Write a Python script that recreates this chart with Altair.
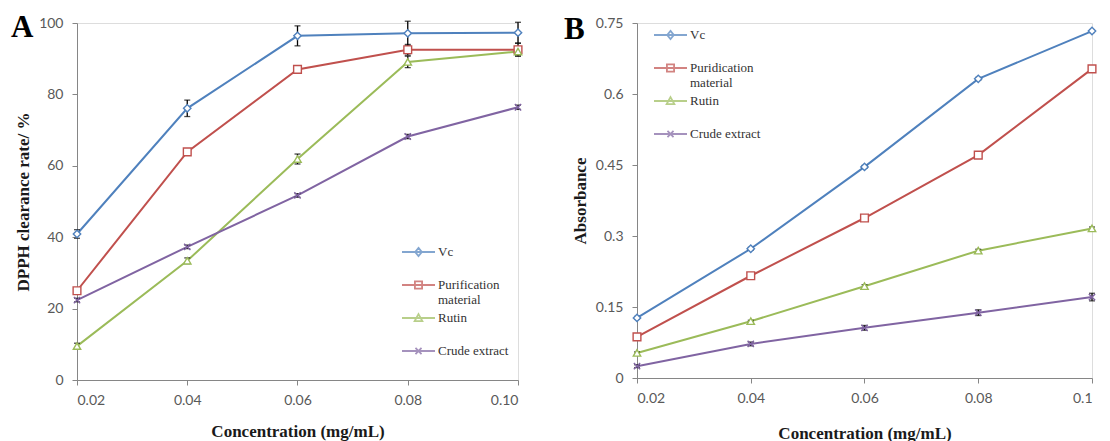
import altair as alt
import pandas as pd

# ---------------- data ----------------
conc = [0.02, 0.04, 0.06, 0.08, 0.10]

a_series = ["Vc", "Purification material", "Rutin", "Crude extract"]
a_vc = [40.9, 76.1, 96.4, 97.1, 97.3]
a_vc_err = [1.2, 2.3, 2.8, 3.4, 2.9]
a_pur = [25.0, 63.9, 87.0, 92.5, 92.5]
a_pur_err = [0.8, 0.6, 0.6, 1.5, 1.8]
a_rut = [9.5, 33.4, 61.9, 89.1, 92.0]
a_rut_err = [0.8, 0.8, 1.4, 1.6, 1.2]
a_cru = [22.4, 37.3, 51.7, 68.2, 76.4]
a_cru_err = [0.5, 0.5, 0.5, 0.6, 0.6]

b_series = ["Vc", "Puridication material", "Rutin", "Crude extract"]
b_vc = [0.127, 0.273, 0.446, 0.632, 0.733]
b_vc_err = [0.003, 0.003, 0.003, 0.003, 0.003]
b_pur = [0.087, 0.216, 0.338, 0.471, 0.653]
b_pur_err = [0.003, 0.003, 0.003, 0.003, 0.004]
b_rut = [0.053, 0.120, 0.194, 0.269, 0.316]
b_rut_err = [0.002, 0.002, 0.003, 0.003, 0.003]
b_cru = [0.025, 0.072, 0.106, 0.138, 0.171]
b_cru_err = [0.003, 0.004, 0.005, 0.006, 0.008]

colors = ["#4F81BD", "#C0504D", "#9BBB59", "#8064A2"]
marker_shapes = ["diamond", "square", "triangle-up", "M-1,-1L1,1M-1,1L1,-1"]
marker_sizes = [55, 60, 55, 40]
# legend glyphs: a short line with the series marker on it (the first move only sets the entry height)
legend_paths = [
    "M0,4.1M-3,0H3M0,-0.75L0.6,0L0,0.75L-0.6,0Z",
    "M0,4.1M-3,0H3M-0.65,-0.65H0.65V0.65H-0.65Z",
    "M0,4.1M-3,0H3M0,-0.7L0.7,0.55H-0.7Z",
    "M0,4.1M-3,0H3M-0.55,-0.55L0.55,0.55M-0.55,0.55L0.55,-0.55",
]

AX = dict(domainColor="#868686", tickColor="#868686", domainWidth=1, tickWidth=1,
          tickSize=5, grid=False, labelFont="Lato", labelFontSize=14,
          labelColor="#595959", titleFont="Liberation Serif", titleFontSize=17,
          titleFontWeight="bold", titleColor="#1a1a1a")


def make_df(series, vals, errs):
    rows = []
    for s, v, e in zip(series, vals, errs):
        for c, vv, ee in zip(conc, v, e):
            rows.append({"conc": c, "series": s, "value": vv, "lo": vv - ee, "hi": vv + ee})
    return pd.DataFrame(rows)


def panel(letter, series, vals, errs, ydom, yvals, yfmt, xfmt, ytitle, w, h,
          leg_x, leg_y, letter_x, letter_y, xtitle_pad, two_line):
    df = make_df(series, vals, errs)
    base = alt.Chart(df)
    xax = alt.Axis(values=conc, format=xfmt, title="Concentration (mg/mL)",
                   labelPadding=8, titlePadding=xtitle_pad, **AX)
    yax = alt.Axis(values=yvals, format=yfmt, title=ytitle, labelPadding=9,
                   titlePadding=6, **AX)
    xsc = alt.Scale(domain=[0.02, 0.10], nice=False, zero=False)
    ysc = alt.Scale(domain=ydom, nice=False, zero=True)
    x = alt.X("conc:Q", scale=xsc, axis=xax)

    w1, w2 = two_line.split(" ")
    legend = alt.Legend(
        orient="none", legendX=leg_x, legendY=leg_y, title=None,
        symbolSize=121, symbolStrokeWidth=1.8, symbolFillColor="white", rowPadding=-3,
        labelFont="Liberation Serif", labelFontSize=13, labelColor="#333333",
        labelOffset=13,
        labelExpr=f"datum.label === '{two_line}' ? ['{w1}', '{w2}'] : datum.label",
    )

    layers = [
        base.mark_line(strokeWidth=2).encode(
            x=x, y=alt.Y("value:Q", scale=ysc, axis=yax),
            color=alt.Color("series:N", scale=alt.Scale(domain=series, range=colors), legend=legend),
            order="conc:Q"),
        # zero-size marks whose shape scale supplies the legend glyphs
        base.mark_point(filled=False, strokeWidth=1.8).encode(
            x=x, y=alt.Y("value:Q", scale=ysc, axis=yax),
            shape=alt.Shape("series:N", scale=alt.Scale(domain=series, range=legend_paths),
                            legend=legend),
            size=alt.value(0)),
        base.mark_rule(color="black", strokeWidth=1.3).encode(
            x=x, y=alt.Y("lo:Q", scale=ysc, axis=yax), y2="hi:Q"),
        base.mark_tick(color="black", orient="horizontal", size=6, thickness=1.3).encode(
            x=x, y=alt.Y("lo:Q", scale=ysc, axis=yax)),
        base.mark_tick(color="black", orient="horizontal", size=6, thickness=1.3).encode(
            x=x, y=alt.Y("hi:Q", scale=ysc, axis=yax)),
    ]
    for s, c, shp, sz in zip(series, colors, marker_shapes, marker_sizes):
        layers.append(base.transform_filter(alt.datum.series == s).mark_point(
            filled=False, fill="white", fillOpacity=1, opacity=1, stroke=c,
            strokeWidth=1.4, size=sz, shape=shp).encode(
            x=x, y=alt.Y("value:Q", scale=ysc, axis=yax)))

    layers.append(alt.Chart(pd.DataFrame({"t": [letter]})).mark_text(
        font="Liberation Serif", fontSize=31, fontWeight="bold", color="black",
        align="left", baseline="alphabetic").encode(
        x=alt.value(letter_x), y=alt.value(letter_y), text="t:N"))
    return alt.layer(*layers).properties(width=w, height=h)


pa = panel("A", a_series, [a_vc, a_pur, a_rut, a_cru],
           [a_vc_err, a_pur_err, a_rut_err, a_cru_err],
           [0, 100], [0, 20, 40, 60, 80, 100], "d", ".2f", "DPPH clearance rate/ %",
           441, 357, 335, 222.5, -66, 14, 16, "Purification material")
pb = panel("B", b_series, [b_vc, b_pur, b_rut, b_cru],
           [b_vc_err, b_pur_err, b_rut_err, b_cru_err],
           [0, 0.75], [0, 0.15, 0.3, 0.45, 0.6, 0.75], ".2~f", ".2~f", "Absorbance",
           455, 355, 27, 5.5, -73, 16, 20, "Puridication material")

chart = alt.hconcat(pa, pb, spacing=37).resolve_scale(
    color="independent", shape="independent"
).resolve_legend(color="independent", shape="independent").properties(
    padding={"left": 2, "top": 3, "right": 0, "bottom": 0}
).configure_view(stroke=None).configure_legend(
    labelFont="Liberation Serif", labelFontSize=13, labelColor="#333333"
).configure(background="white")

chart.save("out.html", embed_options={"renderer": "svg", "actions": False})
